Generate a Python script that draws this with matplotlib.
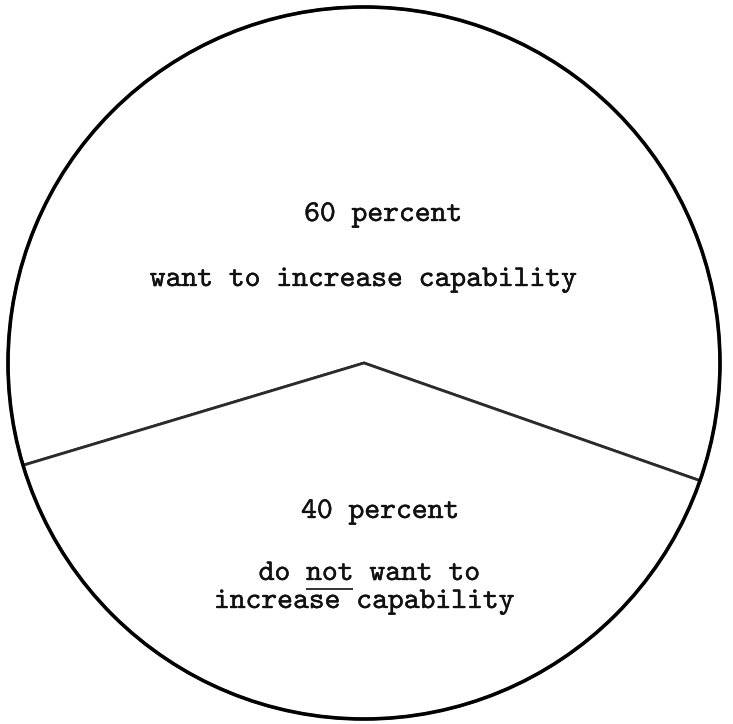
import matplotlib
matplotlib.use("Agg")
import matplotlib.pyplot as plt
from matplotlib.patches import Circle
import matplotlib.patheffects as pe

# data
shares = [60, 40]
labels_top = ["60 percent", "want to increase capability"]
labels_bot = ["40 percent", "do not want to", "increase capability"]

W, H = 733, 724
CX, CY, R = 364, 724 - 363, 356   # pixel-space pie geometry
FONT = "cmtt10"   # typewriter face shipped with matplotlib
FS = 21.7

fig = plt.figure(figsize=(W / 100, H / 100), dpi=100)
ax = fig.add_axes([0, 0, 1, 1])
ax.pie(shares, startangle=-19.3, counterclock=True, center=(CX, CY), radius=R,
       colors=["white", "white"],
       wedgeprops=dict(edgecolor="#2b2b2b", linewidth=2.0))
ax.add_patch(Circle((CX, CY), R, fill=False, edgecolor="black", linewidth=2.6))
ax.set_xlim(0, W); ax.set_ylim(0, H)
ax.set_aspect("auto")
ax.axis("off")

fx = [pe.withStroke(linewidth=0.25, foreground="#111111")]


def txt(x, py, s):
    return ax.text(x, H - py, s, ha="center", va="baseline", fontsize=FS,
                   family=FONT, color="#111111", path_effects=fx)


txt(383, 221, labels_top[0])
txt(363, 286, labels_top[1])
txt(380, 518, labels_bot[0])
t_not = txt(369, 580, labels_bot[1])
txt(364, 608, labels_bot[2])

# underline "not" in the second line of the lower slice
fig.canvas.draw()
bb = t_not.get_window_extent()
cw = bb.width / len(labels_bot[1])
i0 = labels_bot[1].index("not")
x0 = bb.x0 + i0 * cw
x1 = x0 + 3 * cw
ax.plot([x0, x1], [H - 589, H - 589], color="#333333", lw=1.4,
        solid_capstyle="butt")

fig.savefig("out.png", dpi=100, facecolor="white")
